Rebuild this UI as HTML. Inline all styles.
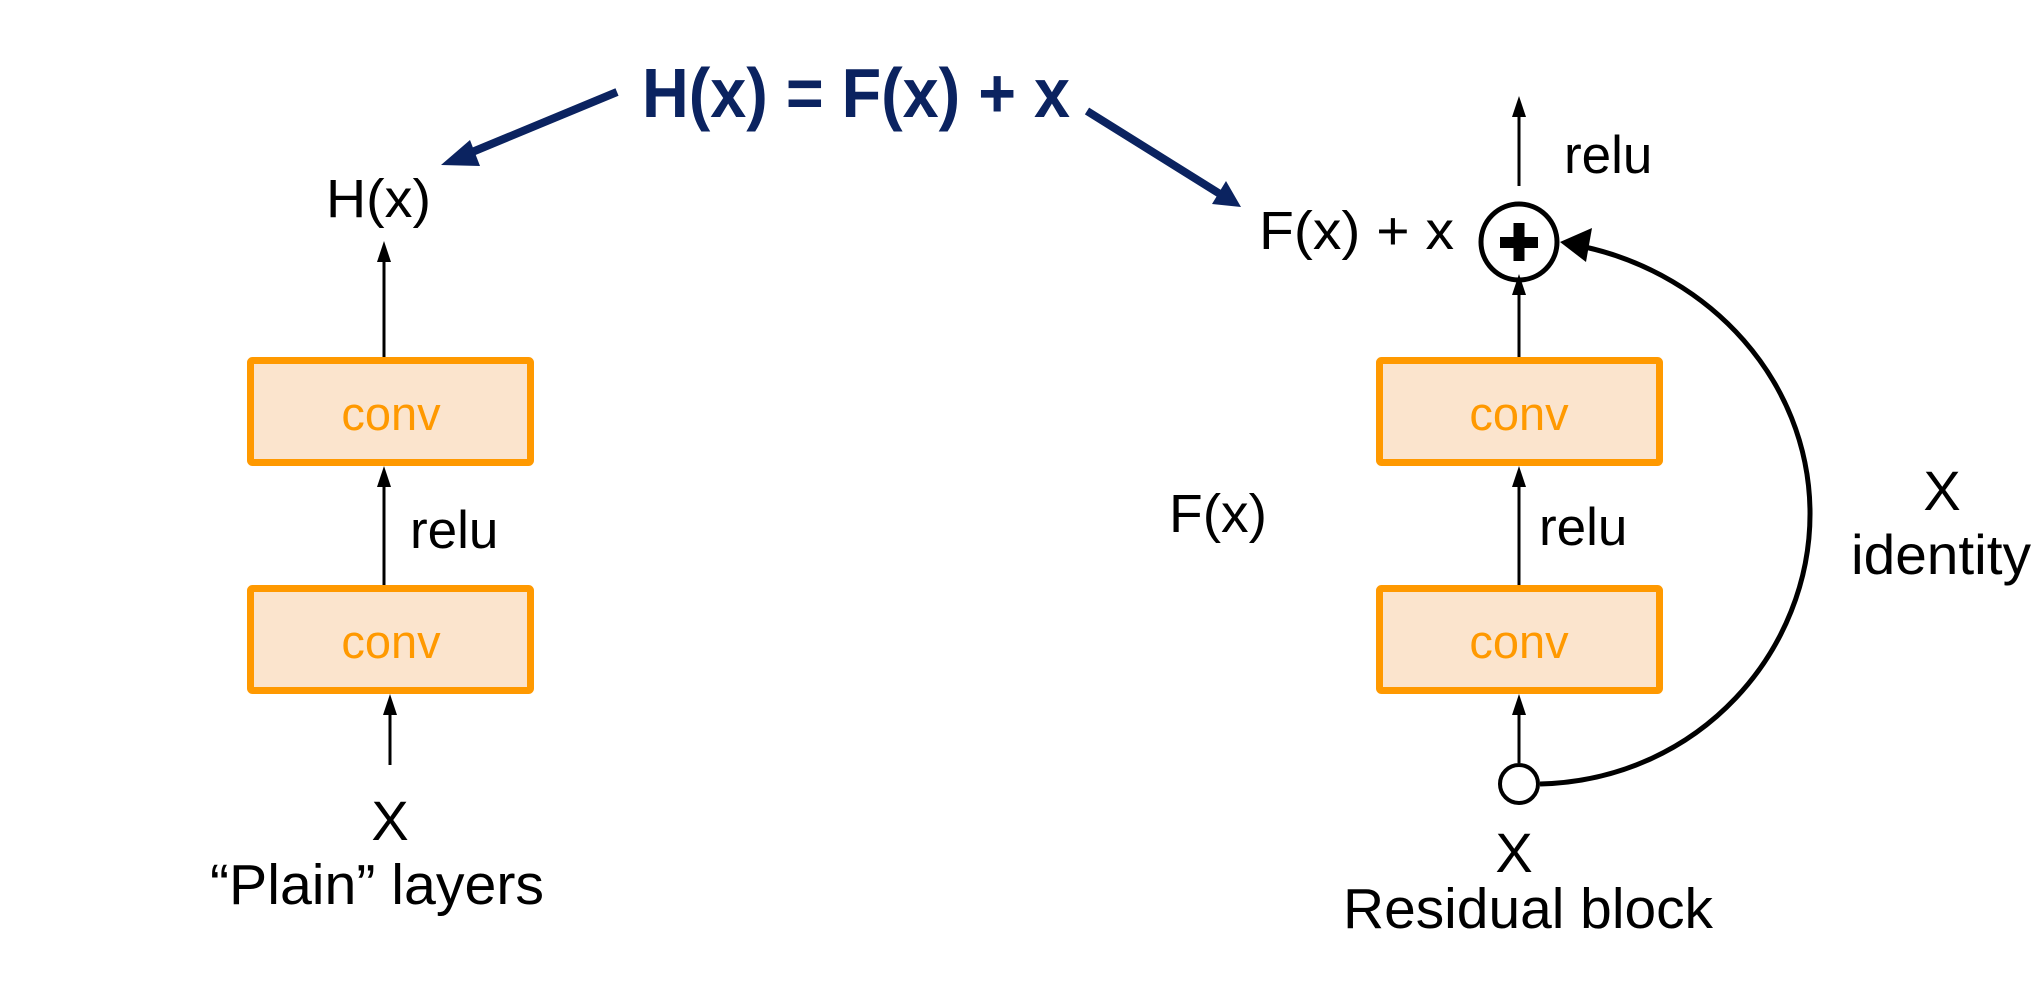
<!DOCTYPE html>
<html><head><meta charset="utf-8"><style>
html,body{margin:0;padding:0;background:#fff;}
svg{display:block;}
text{font-family:"Liberation Sans",Arial,sans-serif;}
</style></head><body>
<svg width="2042" height="1000" viewBox="0 0 2042 1000" xmlns="http://www.w3.org/2000/svg">
<rect width="2042" height="1000" fill="#fff"/>

<!-- Title -->
<text x="642" y="117" font-size="70" font-weight="bold" fill="#0b2360" textLength="428" lengthAdjust="spacingAndGlyphs">H(x) = F(x) + x</text>
<!-- blue arrows -->
<line x1="617" y1="92" x2="465" y2="155" stroke="#0b2360" stroke-width="8"/>
<polygon points="441,165 470,140 480,166" fill="#0b2360"/>
<line x1="1087" y1="111" x2="1220" y2="194" stroke="#0b2360" stroke-width="8"/>
<polygon points="1241,207 1212,204 1226,181" fill="#0b2360"/>

<!-- Left: plain -->
<text x="326" y="217" font-size="54" fill="#000" textLength="105" lengthAdjust="spacingAndGlyphs">H(x)</text>
<line x1="384" y1="360" x2="384" y2="253" stroke="#000" stroke-width="3"/>
<polygon points="384,241 377,262 391,262" fill="#000"/>
<rect x="250.5" y="360.5" width="280" height="102" fill="#fbe4cd" stroke="#ff9900" stroke-width="7" rx="2"/>
<text x="391" y="430" font-size="47" fill="#ff9900" text-anchor="middle">conv</text>
<line x1="384" y1="585" x2="384" y2="478" stroke="#000" stroke-width="3"/>
<polygon points="384,466 377,487 391,487" fill="#000"/>
<text x="410" y="548" font-size="53" fill="#000">relu</text>
<rect x="250.5" y="588.5" width="280" height="102" fill="#fbe4cd" stroke="#ff9900" stroke-width="7" rx="2"/>
<text x="391" y="658" font-size="47" fill="#ff9900" text-anchor="middle">conv</text>
<line x1="390" y1="765" x2="390" y2="706" stroke="#000" stroke-width="3"/>
<polygon points="390,694 383,715 397,715" fill="#000"/>
<text x="390" y="840" font-size="56" fill="#000" text-anchor="middle">X</text>
<text x="210" y="904" font-size="57" fill="#000" textLength="334" lengthAdjust="spacingAndGlyphs">“Plain” layers</text>

<!-- Right: residual -->
<line x1="1519" y1="186" x2="1519" y2="108" stroke="#000" stroke-width="3"/>
<polygon points="1519,96 1512,117 1526,117" fill="#000"/>
<text x="1564" y="173" font-size="53" fill="#000">relu</text>
<text x="1259" y="249" font-size="54" fill="#000" textLength="195" lengthAdjust="spacingAndGlyphs">F(x) + x</text>
<circle cx="1519" cy="242" r="38" fill="#fff" stroke="#000" stroke-width="5"/>
<rect x="1500" y="237" width="38" height="11" fill="#000"/>
<rect x="1513.5" y="223" width="11" height="38" fill="#000"/>
<line x1="1519" y1="360" x2="1519" y2="290" stroke="#000" stroke-width="3"/>
<polygon points="1519,274 1512,295 1526,295" fill="#000"/>
<rect x="1379.5" y="360.5" width="280" height="102" fill="#fbe4cd" stroke="#ff9900" stroke-width="7" rx="2"/>
<text x="1519" y="430" font-size="47" fill="#ff9900" text-anchor="middle">conv</text>
<line x1="1519" y1="585" x2="1519" y2="478" stroke="#000" stroke-width="3"/>
<polygon points="1519,466 1512,487 1526,487" fill="#000"/>
<text x="1539" y="545" font-size="53" fill="#000">relu</text>
<text x="1169" y="532" font-size="54" fill="#000" textLength="98" lengthAdjust="spacingAndGlyphs">F(x)</text>
<rect x="1379.5" y="588.5" width="280" height="102" fill="#fbe4cd" stroke="#ff9900" stroke-width="7" rx="2"/>
<text x="1519" y="658" font-size="47" fill="#ff9900" text-anchor="middle">conv</text>
<line x1="1519" y1="763" x2="1519" y2="706" stroke="#000" stroke-width="3"/>
<polygon points="1519,694 1512,715 1526,715" fill="#000"/>
<path d="M1540,784 C1700,780 1812,650 1810,510 C1808,380 1710,275 1585,247" fill="none" stroke="#000" stroke-width="5"/>
<polygon points="1560,242 1592,228 1586,262" fill="#000"/>
<circle cx="1519" cy="784" r="19" fill="#fff" stroke="#000" stroke-width="4"/>
<text x="1942" y="510" font-size="56" fill="#000" text-anchor="middle">X</text>
<text x="1851" y="574" font-size="56" fill="#000" textLength="180" lengthAdjust="spacingAndGlyphs">identity</text>
<text x="1514" y="872" font-size="56" fill="#000" text-anchor="middle">X</text>
<text x="1343" y="928" font-size="57" fill="#000" textLength="370" lengthAdjust="spacingAndGlyphs">Residual block</text>
</svg>
</body></html>
